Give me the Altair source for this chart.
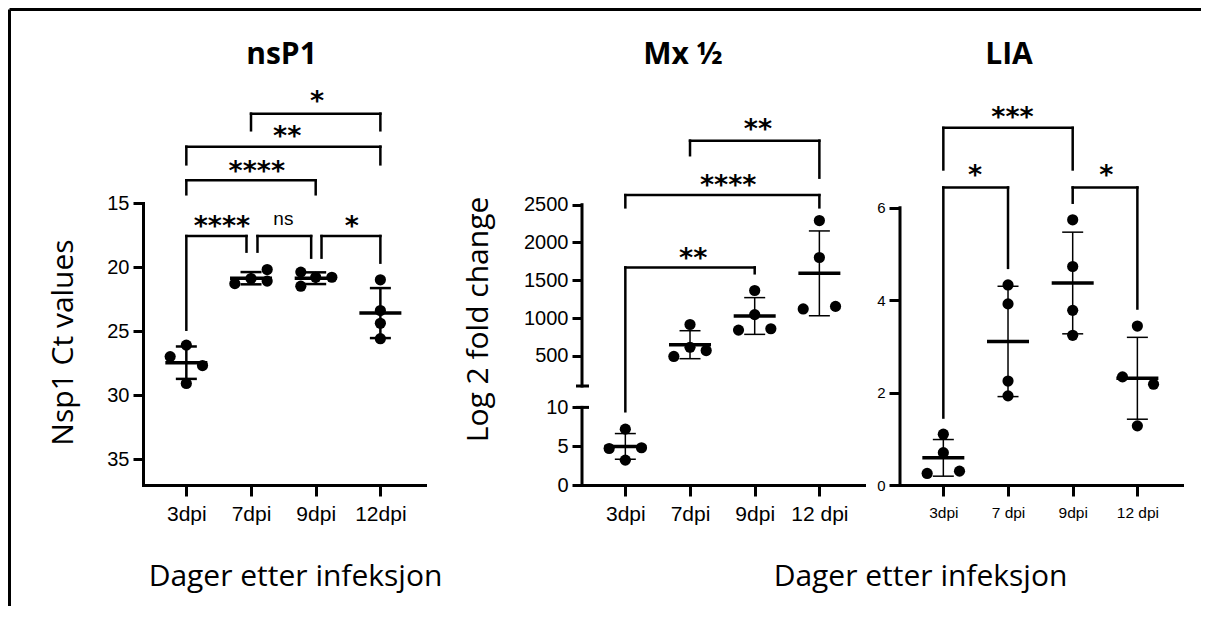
import json
import altair as alt
import pandas as pd

# ---------------- data ----------------
NSP1_LABELS = ["3dpi", "7dpi", "9dpi", "12dpi"]
MX_LABELS = ["3dpi", "7dpi", "9dpi", "12 dpi"]
LIA_LABELS = ["3dpi", "7 dpi", "9dpi", "12 dpi"]
PANEL_TITLES = ["nsP1", "Mx ½", "LIA"]
X_TITLE = "Dager etter infeksjon"

# nsP1 Ct values per group (3, 7, 9, 12 dpi)
NSP1_3DPI = [26.1, 27.0, 27.7, 29.1]
NSP1_7DPI = [21.3, 20.9, 20.2, 21.1]
NSP1_9DPI = [20.4, 21.5, 20.8, 20.8]
NSP1_12DPI = [21.0, 23.4, 24.4, 25.6]
NSP1_SPREAD = [[0, -0.25, 0.25, 0], [-0.25, 0, 0.25, 0.25],
               [-0.23, -0.23, 0, 0.25], [0, 0, 0, 0]]

# Mx 1/2 fold change per group
MX_3DPI = [7.2, 4.7, 4.8, 3.2]
MX_7DPI = [914, 491, 613, 569]
MX_9DPI = [1364, 1045, 840, 858]
MX_12DPI = [2290, 1801, 1120, 1154]
MX_SPREAD = [[0, -0.25, 0.25, 0], [0, -0.25, 0, 0.25],
             [0, 0, -0.25, 0.25], [0, 0, -0.25, 0.25]]

# LIA per group
LIA_3DPI = [1.10, 0.70, 0.25, 0.30]
LIA_7DPI = [4.33, 3.92, 2.25, 1.93]
LIA_9DPI = [5.74, 4.73, 3.78, 3.24]
LIA_12DPI = [3.44, 2.34, 2.18, 1.28]
LIA_SPREAD = [[0, 0, -0.25, 0.25], [0, 0, 0, 0],
              [0, 0, 0, 0], [0, -0.23, 0.25, 0]]

# significance brackets: (from group, to group, level, left leg end, right leg end)
NSP1_BRACKETS = [(0, 0.93, 17.58, 24.9, 18.8), (1.10, 1.93, 17.58, 18.8, 19.27),
                 (2.09, 3, 17.58, 19.27, 19.66), (0, 2, 13.23, 14.32, 14.32),
                 (0, 3, 10.60, 11.98, 11.98), (1, 3, 8.02, 9.32, 9.32)]
NSP1_NOTES = [("****", 0.55, 16.3), ("ns", 1.50, 16.3), ("*", 2.56, 16.3),
              ("****", 1.09, 12.0), ("**", 1.56, 9.3), ("*", 2.02, 6.56)]

MX_BRACKETS = [(1, 3, 3348, 3155, 2858), (0, 3, 2627, 2465, 2465),
               (0, 2, 1670, 9.5, 1592)]
MX_NOTES = [("**", 2.05, 3579), ("****", 1.59, 2841), ("**", 1.05, 1875)]
MX_TICKS = [0, 5, 10, 500, 1000, 1500, 2000, 2500]
MX_SEGMENTS = [(0, 10), (100, 2500)]   # broken axis pieces
MX_BREAKS = [10, 100]

LIA_BRACKETS = [(0, 2, 7.73, 6.83, 6.83), (0, 1, 6.44, 1.46, 4.70),
                (2, 3, 6.44, 6.11, 3.82)]
LIA_NOTES = [("***", 1.07, 8.10), ("*", 0.49, 6.83), ("*", 2.52, 6.83)]

# ---------------- styling / layout ----------------
XDOM = [-0.67, 3.69]
PW = PH = 282
BLACK = "#000000"
TICK_FONT = "Liberation Sans"
TEXT_FONT = "Open Sans"
STAR_FONT = "DejaVu Sans"
BIG = 30

# broken-axis mapping for the Mx panel (value -> display units)
LOW_K, BREAK_V, BREAK_D, HIGH_K = 7.76, 100, 99, 0.07554


def mx_map(f):
    return (f"datum.{f} <= 10 ? datum.{f} * {LOW_K} : "
            f"{BREAK_D} + (datum.{f} - {BREAK_V}) * {HIGH_K}")


def mx_py(v):
    return v * LOW_K if v <= 10 else BREAK_D + (v - BREAK_V) * HIGH_K


MX_LABEL_EXPR = (f"'' + (datum.value < 90 ? round(datum.value / {LOW_K}) : "
                 f"round({BREAK_V} + (datum.value - {BREAK_D}) / {HIGH_K}))")


def label_expr(labels):
    return json.dumps(labels) + "[datum.value]"


def points_frame(groups, spread):
    rows = []
    for g, (vals, offs) in enumerate(zip(groups, spread)):
        for v, o in zip(vals, offs):
            rows.append({"g": g, "xp": g + o, "v": v})
    return pd.DataFrame(rows)


def x_axis(labels, size, pad, title=None, title_x=0):
    kw = dict(values=[0, 1, 2, 3], labelExpr=label_expr(labels), labelFont=TICK_FONT,
              labelFontSize=size, labelPadding=pad, tickSize=11, tickWidth=3,
              domainWidth=3, labelOverlap=False, grid=False)
    if title:
        kw.update(title=title, titleFont=TEXT_FONT, titleFontSize=BIG, titleFontWeight="normal",
                  titleX=title_x, titleY=100, titleAlign="center", titleBaseline="alphabetic",
                  titleAngle=0)
    else:
        kw["title"] = None
    return alt.Axis(**kw)


def panel(groups, spread, brackets, notes, yscale, yaxis, xaxis, title, title_x,
          ymap=None, sd_w=1.5, segments=(), breaks=(), border=False):
    pts = points_frame(groups, spread)
    br = pd.DataFrame(brackets, columns=["x1", "x2", "y", "yl", "yr"])
    nt = pd.DataFrame(notes, columns=["t", "x", "y"])
    xs = alt.Scale(domain=XDOM, nice=False, zero=False)

    # every layer carries the same scale and axis so that they merge cleanly
    def X(f):
        return alt.X(f"{f}:Q", scale=xs, axis=xaxis)

    def Y(f):
        return alt.Y(f"{f}:Q", scale=yscale, axis=yaxis)

    def mapped(ch, fields):
        if ymap is None:
            return ch, {f: f for f in fields}
        return (ch.transform_calculate(**{f + "_d": ymap(f) for f in fields}),
                {f: f + "_d" for f in fields})

    layers = []
    c, m = mapped(alt.Chart(pts), ["v"])
    layers.append(c.mark_circle(size=125, color=BLACK, opacity=1).encode(
        x=X("xp"), y=Y(m["v"])))

    s = alt.Chart(pts).transform_aggregate(
        mean="mean(v)", sd="stdev(v)", groupby=["g"]
    ).transform_calculate(lo="datum.mean - datum.sd", hi="datum.mean + datum.sd")
    s, m = mapped(s, ["mean", "lo", "hi"])
    layers.append(s.mark_rule(strokeWidth=sd_w, color=BLACK).encode(
        x=X("g"), y=Y(m["lo"]), y2=alt.Y2(m["hi"])))
    for f in ("lo", "hi"):
        layers.append(s.mark_tick(orient="horizontal", size=21, thickness=sd_w,
                                  color=BLACK, opacity=1)
                      .encode(x=X("g"), y=Y(m[f])))
    layers.append(s.mark_tick(orient="horizontal", size=42, thickness=3.5,
                              color=BLACK, opacity=1)
                  .encode(x=X("g"), y=Y(m["mean"])))

    b, m = mapped(alt.Chart(br), ["y", "yl", "yr"])
    bk = dict(strokeWidth=2.5, color=BLACK, strokeCap="square")
    layers += [
        b.mark_rule(**bk).encode(x=X("x1"), x2=alt.X2("x2"), y=Y(m["y"])),
        b.mark_rule(**bk).encode(x=X("x1"), y=Y(m["y"]), y2=alt.Y2(m["yl"])),
        b.mark_rule(**bk).encode(x=X("x2"), y=Y(m["y"]), y2=alt.Y2(m["yr"])),
    ]

    n, m = mapped(alt.Chart(nt), ["y"])
    layers.append(n.transform_filter("datum.t != 'ns'").mark_text(
        font=STAR_FONT, fontSize=27, fontWeight="bold", baseline="alphabetic", dy=15,
        color=BLACK
    ).encode(x=X("x"), y=Y(m["y"]), text="t:N"))
    layers.append(n.transform_filter("datum.t == 'ns'").mark_text(
        font=TICK_FONT, fontSize=19, baseline="alphabetic", dy=5, color=BLACK
    ).encode(x=X("x"), y=Y(m["y"]), text="t:N"))

    if segments:
        sg, m = mapped(alt.Chart(pd.DataFrame(segments, columns=["a", "b"])), ["a", "b"])
        layers.append(sg.mark_rule(strokeWidth=3, color=BLACK, strokeCap="square").encode(
            x=alt.value(0), y=Y(m["a"]), y2=alt.Y2(m["b"])))
    if breaks:
        bc, m = mapped(alt.Chart(pd.DataFrame({"c": list(breaks)})), ["c"])
        layers.append(bc.mark_rule(strokeWidth=3, color=BLACK).encode(
            x=alt.value(-6), x2=alt.value(7), y=Y(m["c"])))

    # panel heading
    layers.append(alt.Chart(pd.DataFrame({"t": [title]})).mark_text(
        font=TEXT_FONT, fontSize=30, fontWeight="bold", baseline="alphabetic",
        align="center", color=BLACK
    ).encode(text="t:N", x=alt.value(title_x), y=alt.value(-139.3)))

    if border:
        one = alt.Chart(pd.DataFrame({"k": [0]}))
        layers.append(one.mark_rule(strokeWidth=3, color=BLACK).encode(
            x=alt.value(-133.5), x2=alt.value(1058), y=alt.value(-193.5)))
        layers.append(one.mark_rule(strokeWidth=3, color=BLACK).encode(
            x=alt.value(-133.5), y=alt.value(-193.5), y2=alt.value(403)))

    return alt.layer(*layers).properties(width=PW, height=PH)


common_y = dict(labelFont=TICK_FONT, labelPadding=4, tickWidth=3, domainWidth=3,
                grid=False, labelOverlap=False)

p1 = panel(
    [NSP1_3DPI, NSP1_7DPI, NSP1_9DPI, NSP1_12DPI], NSP1_SPREAD, NSP1_BRACKETS, NSP1_NOTES,
    alt.Scale(domain=[15, 15 + PH / 12.8], reverse=True, nice=False, zero=False),
    alt.Axis(values=[15, 20, 25, 30, 35], labelFontSize=20, tickSize=10,
             title="Nsp1 Ct values", titleFont=TEXT_FONT, titleFontSize=BIG,
             titleFontWeight="normal", titleX=-71, titleY=139, titleAngle=270,
             titleAlign="center", titleBaseline="alphabetic", **common_y),
    x_axis(NSP1_LABELS, 21, 7, X_TITLE, 152),
    PANEL_TITLES[0], 138.5, sd_w=2.5, border=True)

p2 = panel(
    [MX_3DPI, MX_7DPI, MX_9DPI, MX_12DPI], MX_SPREAD, MX_BRACKETS, MX_NOTES,
    alt.Scale(domain=[0, PH], nice=False, zero=False),
    alt.Axis(values=[mx_py(v) for v in MX_TICKS], labelExpr=MX_LABEL_EXPR,
             labelFontSize=20, tickSize=10, domain=False,
             title="Log 2 fold change", titleFont=TEXT_FONT, titleFontSize=BIG,
             titleFontWeight="normal", titleX=-95, titleY=116, titleAngle=270,
             titleAlign="center", titleBaseline="alphabetic", **common_y),
    x_axis(MX_LABELS, 21, 7, X_TITLE, 338),
    PANEL_TITLES[1], 101, ymap=mx_map, segments=MX_SEGMENTS, breaks=MX_BREAKS)

p3 = panel(
    [LIA_3DPI, LIA_7DPI, LIA_9DPI, LIA_12DPI], LIA_SPREAD, LIA_BRACKETS, LIA_NOTES,
    alt.Scale(domain=[0, PH / 46.2], nice=False, zero=False),
    alt.Axis(values=[0, 2, 4, 6], labelFontSize=15, tickSize=11, domain=False,
             title=None, **common_y),
    x_axis(LIA_LABELS, 15.5, 9),
    PANEL_TITLES[2], 109, segments=[(0, 6)])

spacer = alt.Chart(pd.DataFrame({"k": [0]})).mark_point(opacity=0).encode(
    x=alt.value(0), y=alt.value(0)).properties(width=85, height=PH)

chart = alt.hconcat(p1, spacer, p2, p3, spacing=36, bounds="flush").properties(
    padding=0
).configure_view(stroke=None).configure_axis(
    domainColor=BLACK, tickColor=BLACK, labelColor=BLACK, titleColor=BLACK,
    domainCap="square"
)

chart.save("out.html", embed_options={"renderer": "svg", "actions": False})
